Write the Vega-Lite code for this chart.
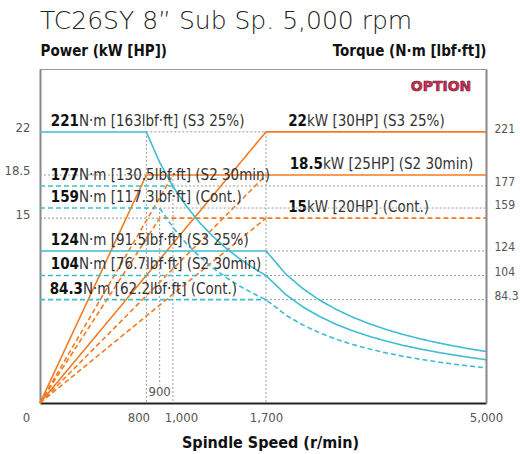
{
  "$schema": "https://vega.github.io/schema/vega-lite/v6.json",
  "width": 446,
  "height": 334,
  "autosize": "none",
  "padding": {"left": 40, "top": 69, "right": 34, "bottom": 51},
  "background": "white",
  "title": {
    "text": "TC26SY 8\u201d Sub Sp. 5,000 rpm",
    "anchor": "start",
    "frame": "group",
    "font": "DejaVu Sans",
    "fontWeight": 200,
    "fontSize": 25,
    "color": "#222",
    "baseline": "alphabetic",
    "offset": -11
  },
  "config": {
    "view": {"stroke": "#999", "strokeWidth": 1},
    "axis": {"grid": false, "ticks": false, "labelOverlap": false, "labelFont": "DejaVu Sans Condensed", "labelFontSize": 13, "labelColor": "#555", "titleFont": "DejaVu Sans Condensed", "titleFontSize": 16, "titleFontWeight": "bold", "titleColor": "#111"},
    "text": {"font": "DejaVu Sans Condensed"}
  },
  "datasets": {
    "pw": [
      {"s": "a", "st": "solid", "rpm": 0, "kw": 0}, {"s": "a", "st": "solid", "rpm": 800, "kw": 18.5}, {"s": "a", "st": "solid", "rpm": 5000, "kw": 18.5},
      {"s": "b", "st": "solid", "rpm": 0, "kw": 0}, {"s": "b", "st": "solid", "rpm": 1700, "kw": 22}, {"s": "b", "st": "solid", "rpm": 5000, "kw": 22},
      {"s": "c", "st": "dash", "rpm": 0, "kw": 0}, {"s": "c", "st": "dash", "rpm": 1000, "kw": 18.5},
      {"s": "d", "st": "dash", "rpm": 0, "kw": 0}, {"s": "d", "st": "dash", "rpm": 900, "kw": 15}, {"s": "d", "st": "dash", "rpm": 5000, "kw": 15},
      {"s": "e", "st": "dash", "rpm": 0, "kw": 0}, {"s": "e", "st": "dash", "rpm": 1700, "kw": 18.5},
      {"s": "f", "st": "dash", "rpm": 0, "kw": 0}, {"s": "f", "st": "dash", "rpm": 1700, "kw": 15}
    ],
    "tq": [
      {"s": "a", "st": "solid", "rpm": 0, "nm": 221}, {"s": "a", "st": "solid", "rpm": 800, "nm": 221}, {"s": "a", "st": "solid", "rpm": 900, "nm": 196.3}, {"s": "a", "st": "solid", "rpm": 1000, "nm": 176.7}, {"s": "a", "st": "solid", "rpm": 1100, "nm": 160.6}, {"s": "a", "st": "solid", "rpm": 1200, "nm": 147.2}, {"s": "a", "st": "solid", "rpm": 1300, "nm": 135.9}, {"s": "a", "st": "solid", "rpm": 1400, "nm": 126.2}, {"s": "a", "st": "solid", "rpm": 1500, "nm": 117.8}, {"s": "a", "st": "solid", "rpm": 1600, "nm": 110.4}, {"s": "a", "st": "solid", "rpm": 1700, "nm": 103.9}, {"s": "a", "st": "solid", "rpm": 2000, "nm": 88.3}, {"s": "a", "st": "solid", "rpm": 2250, "nm": 78.5}, {"s": "a", "st": "solid", "rpm": 2500, "nm": 70.7}, {"s": "a", "st": "solid", "rpm": 2750, "nm": 64.2}, {"s": "a", "st": "solid", "rpm": 3000, "nm": 58.9}, {"s": "a", "st": "solid", "rpm": 3250, "nm": 54.4}, {"s": "a", "st": "solid", "rpm": 3500, "nm": 50.5}, {"s": "a", "st": "solid", "rpm": 3750, "nm": 47.1}, {"s": "a", "st": "solid", "rpm": 4000, "nm": 44.2}, {"s": "a", "st": "solid", "rpm": 4250, "nm": 41.6}, {"s": "a", "st": "solid", "rpm": 4500, "nm": 39.3}, {"s": "a", "st": "solid", "rpm": 4750, "nm": 37.2}, {"s": "a", "st": "solid", "rpm": 5000, "nm": 35.3},
      {"s": "b", "st": "solid", "rpm": 0, "nm": 124}, {"s": "b", "st": "solid", "rpm": 1700, "nm": 124}, {"s": "b", "st": "solid", "rpm": 2000, "nm": 105.0}, {"s": "b", "st": "solid", "rpm": 2250, "nm": 93.4}, {"s": "b", "st": "solid", "rpm": 2500, "nm": 84.0}, {"s": "b", "st": "solid", "rpm": 2750, "nm": 76.4}, {"s": "b", "st": "solid", "rpm": 3000, "nm": 70.0}, {"s": "b", "st": "solid", "rpm": 3250, "nm": 64.6}, {"s": "b", "st": "solid", "rpm": 3500, "nm": 60.0}, {"s": "b", "st": "solid", "rpm": 3750, "nm": 56.0}, {"s": "b", "st": "solid", "rpm": 4000, "nm": 52.5}, {"s": "b", "st": "solid", "rpm": 4250, "nm": 49.4}, {"s": "b", "st": "solid", "rpm": 4500, "nm": 46.7}, {"s": "b", "st": "solid", "rpm": 4750, "nm": 44.2}, {"s": "b", "st": "solid", "rpm": 5000, "nm": 42.0},
      {"s": "c", "st": "dash", "rpm": 0, "nm": 177}, {"s": "c", "st": "dash", "rpm": 1000, "nm": 177},
      {"s": "d", "st": "dash", "rpm": 0, "nm": 159}, {"s": "d", "st": "dash", "rpm": 900, "nm": 159}, {"s": "d", "st": "dash", "rpm": 1000, "nm": 143.2}, {"s": "d", "st": "dash", "rpm": 1100, "nm": 130.2}, {"s": "d", "st": "dash", "rpm": 1200, "nm": 119.4}, {"s": "d", "st": "dash", "rpm": 1300, "nm": 110.2}, {"s": "d", "st": "dash", "rpm": 1400, "nm": 102.3}, {"s": "d", "st": "dash", "rpm": 1500, "nm": 95.5}, {"s": "d", "st": "dash", "rpm": 1600, "nm": 89.5}, {"s": "d", "st": "dash", "rpm": 1700, "nm": 84.3}, {"s": "d", "st": "dash", "rpm": 2000, "nm": 71.6}, {"s": "d", "st": "dash", "rpm": 2250, "nm": 63.7}, {"s": "d", "st": "dash", "rpm": 2500, "nm": 57.3}, {"s": "d", "st": "dash", "rpm": 2750, "nm": 52.1}, {"s": "d", "st": "dash", "rpm": 3000, "nm": 47.7}, {"s": "d", "st": "dash", "rpm": 3250, "nm": 44.1}, {"s": "d", "st": "dash", "rpm": 3500, "nm": 40.9}, {"s": "d", "st": "dash", "rpm": 3750, "nm": 38.2}, {"s": "d", "st": "dash", "rpm": 4000, "nm": 35.8}, {"s": "d", "st": "dash", "rpm": 4250, "nm": 33.7}, {"s": "d", "st": "dash", "rpm": 4500, "nm": 31.8}, {"s": "d", "st": "dash", "rpm": 4750, "nm": 30.2}, {"s": "d", "st": "dash", "rpm": 5000, "nm": 28.6},
      {"s": "e", "st": "dash", "rpm": 0, "nm": 104}, {"s": "e", "st": "dash", "rpm": 1700, "nm": 104},
      {"s": "f", "st": "dash", "rpm": 0, "nm": 84.3}, {"s": "f", "st": "dash", "rpm": 1700, "nm": 84.3}
    ],
    "gp": [
      {"rpm": 0, "rpm2": 800, "kw": 18.5, "kw2": 18.5},
      {"rpm": 0, "rpm2": 900, "kw": 15, "kw2": 15},
      {"rpm": 800, "rpm2": 1700, "kw": 22, "kw2": 22},
      {"rpm": 800, "rpm2": 800, "kw": 22, "kw2": 0},
      {"rpm": 1000, "rpm2": 1000, "kw": 18.5, "kw2": 0},
      {"rpm": 1700, "rpm2": 1700, "kw": 22, "kw2": 0}
    ],
    "gt": [
      {"rpm": 900, "rpm2": 900, "nm": 159, "nm2": 15},
      {"rpm": 1000, "rpm2": 5000, "nm": 177, "nm2": 177},
      {"rpm": 900, "rpm2": 5000, "nm": 159, "nm2": 159},
      {"rpm": 1700, "rpm2": 5000, "nm": 124, "nm2": 124},
      {"rpm": 1700, "rpm2": 5000, "nm": 104, "nm2": 104},
      {"rpm": 1700, "rpm2": 5000, "nm": 84.3, "nm2": 84.3}
    ],
    "lt": [
      {"rpm": 293, "nm": 221, "num": "221", "rest": "N\u00b7m [163lbf\u00b7ft] (S3 25%)"},
      {"rpm": 293, "nm": 177, "num": "177", "rest": "N\u00b7m [130.5lbf\u00b7ft] (S2 30min)"},
      {"rpm": 293, "nm": 159, "num": "159", "rest": "N\u00b7m [117.3lbf\u00b7ft] (Cont.)"},
      {"rpm": 293, "nm": 124, "num": "124", "rest": "N\u00b7m [91.5lbf\u00b7ft] (S3 25%)"},
      {"rpm": 293, "nm": 104, "num": "104", "rest": "N\u00b7m [76.7lbf\u00b7ft] (S2 30min)"},
      {"rpm": 323, "nm": 84.3, "num": "84.3", "rest": "N\u00b7m [62.2lbf\u00b7ft] (Cont.)"}
    ],
    "lp": [
      {"rpm": 2315, "kw": 22, "num": "22", "rest": "kW [30HP] (S3 25%)"},
      {"rpm": 2555, "kw": 18.5, "num": "18.5", "rest": "kW [25HP] (S2 30min)"},
      {"rpm": 2315, "kw": 15, "num": "15", "rest": "kW [20HP] (Cont.)"}
    ],
    "misc": [
      {"rpm": 900, "nm": 9, "txt": "900"}
    ],
    "badge": [
      {"rpm": 4325, "nm": 258, "txt": "OPTION"}
    ]
  },
  "layer": [
    {
      "encoding": {
        "x": {"field": "rpm", "type": "quantitative", "scale": {"domain": [0, 1700, 5000], "range": [0, 226, 446], "nice": false},
          "axis": {"values": [0, 800, 1000, 1700, 5000], "labelExpr": "format(datum.value, ',')", "title": "Spindle Speed (r/min)", "domainColor": "#222", "domainWidth": 2, "labelPadding": 8, "labelFlush": false,
            "labelOffset": {"condition": [{"test": "datum.value == 0", "value": -14}, {"test": "datum.value == 800", "value": -8}, {"test": "datum.value == 1000", "value": 8}], "value": 0},
            "titleX": 230, "titleY": 44, "titleBaseline": "alphabetic"}},
        "y": {"field": "kw", "type": "quantitative", "scale": {"domain": [0, 27.1], "nice": false},
          "axis": {"orient": "left", "values": [15, 18.5, 22], "labelExpr": "'' + datum.value", "domainColor": "#888", "domainWidth": 2, "labelPadding": 10, "labelOffset": -4,
            "title": "Power (kW [HP])", "titleAngle": 0, "titleX": 0, "titleY": -14, "titleAlign": "left", "titleBaseline": "alphabetic", "titleFontSize": 15}}
      },
      "layer": [
        {
          "data": {"name": "gp"},
          "mark": {"type": "rule", "color": "#9a9a9a", "strokeDash": [2, 2], "strokeWidth": 1},
          "encoding": {"x2": {"field": "rpm2"}, "y2": {"field": "kw2"}}
        },
        {
          "data": {"name": "pw"},
          "mark": {"type": "line", "color": "#f47b20", "strokeWidth": 1.6},
          "encoding": {
            "detail": {"field": "s"},
            "strokeDash": {"field": "st", "type": "nominal", "scale": {"domain": ["solid", "dash"], "range": [[1, 0], [5, 3]]}, "legend": null}
          }
        },
        {
          "data": {"name": "lp"},
          "mark": {"type": "text", "align": "right", "baseline": "alphabetic", "dy": -6, "fontSize": 15, "fontWeight": "bold", "color": "#111"},
          "encoding": {"text": {"field": "num"}}
        },
        {
          "data": {"name": "lp"},
          "mark": {"type": "text", "align": "left", "baseline": "alphabetic", "dy": -6, "fontSize": 15, "color": "#333"},
          "encoding": {"text": {"field": "rest"}}
        }
      ]
    },
    {
      "encoding": {
        "x": {"field": "rpm", "type": "quantitative", "scale": {"domain": [0, 1700, 5000], "range": [0, 226, 446], "nice": false},
          "axis": {"values": [0, 800, 1000, 1700, 5000], "labelExpr": "format(datum.value, ',')", "title": "Spindle Speed (r/min)", "domainColor": "#222", "domainWidth": 2, "labelPadding": 8, "labelFlush": false,
            "labelOffset": {"condition": [{"test": "datum.value == 0", "value": -14}, {"test": "datum.value == 800", "value": -8}, {"test": "datum.value == 1000", "value": 8}], "value": 0},
            "titleX": 230, "titleY": 44, "titleBaseline": "alphabetic"}},
        "y": {"field": "nm", "type": "quantitative", "scale": {"domain": [0, 272.4], "nice": false},
          "axis": {"orient": "right", "values": [84.3, 104, 124, 159, 177, 221], "labelExpr": "'' + datum.value", "domainColor": "#888", "domainWidth": 2, "labelPadding": 8, "labelOffset": -4, "labelFontSize": 12,
            "title": "Torque (N\u00b7m [lbf\u00b7ft])", "titleAngle": 0, "titleX": 0, "titleY": -14, "titleAlign": "right", "titleBaseline": "alphabetic", "titleFontSize": 15}}
      },
      "layer": [
        {
          "data": {"name": "gt"},
          "mark": {"type": "rule", "color": "#9a9a9a", "strokeDash": [2, 2], "strokeWidth": 1},
          "encoding": {"x2": {"field": "rpm2"}, "y2": {"field": "nm2"}}
        },
        {
          "data": {"name": "tq"},
          "mark": {"type": "line", "color": "#3dbdd2", "strokeWidth": 1.6},
          "encoding": {
            "detail": {"field": "s"},
            "strokeDash": {"field": "st", "type": "nominal", "scale": {"domain": ["solid", "dash"], "range": [[1, 0], [6, 4]]}, "legend": null}
          }
        },
        {
          "data": {"name": "lt"},
          "mark": {"type": "text", "align": "right", "baseline": "alphabetic", "dy": -6, "fontSize": 15, "fontWeight": "bold", "color": "#111"},
          "encoding": {"text": {"field": "num"}}
        },
        {
          "data": {"name": "lt"},
          "mark": {"type": "text", "align": "left", "baseline": "alphabetic", "dy": -6, "fontSize": 15, "color": "#333"},
          "encoding": {"text": {"field": "rest"}}
        },
        {
          "data": {"name": "misc"},
          "mark": {"type": "text", "align": "center", "baseline": "middle", "fontSize": 13, "color": "#555"},
          "encoding": {"text": {"field": "txt"}}
        },
        {
          "data": {"name": "badge"},
          "mark": {"type": "text", "align": "center", "baseline": "middle", "fontSize": 14, "fontWeight": "bold", "font": "DejaVu Sans", "color": "#ec1f55", "stroke": "#333", "strokeWidth": 0.6},
          "encoding": {"text": {"field": "txt"}}
        }
      ]
    }
  ],
  "resolve": {"scale": {"y": "independent"}}
}
